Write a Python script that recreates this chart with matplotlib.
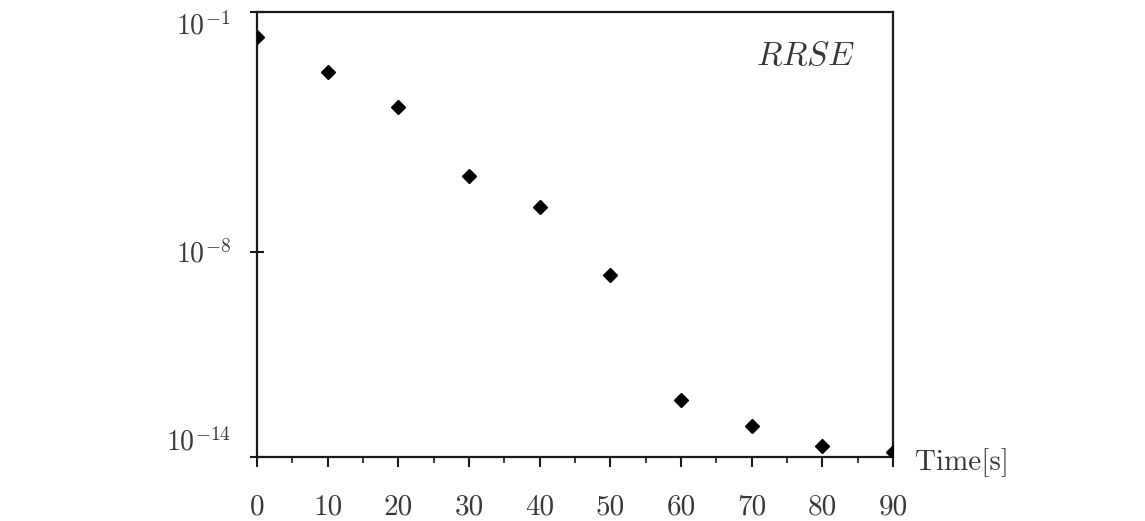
#!/usr/bin/env python3
import matplotlib
matplotlib.use("Agg")
import matplotlib.pyplot as plt
from matplotlib.ticker import FixedLocator, MultipleLocator, FixedFormatter

# RRSE over time
time_s = [0, 10, 20, 30, 40, 50, 60, 70, 80, 90]
rrse = [1.85e-2, 1.8e-3, 1.7e-4, 1.6e-6, 2.0e-7, 2.1e-9, 4.6e-13, 8.1e-14, 2.1e-14, 1.4e-14]

x_ticks = [0, 10, 20, 30, 40, 50, 60, 70, 80, 90]
y_ticks = [1e-14, 1e-8, 1e-1]
y_tick_labels = [r"$10^{-14}$", r"$10^{-8}$", r"$10^{-1}$"]

TEXT_COL = "#383838"

plt.rcParams["mathtext.fontset"] = "cm"
plt.rcParams["font.family"] = ["cmr10", "DejaVu Serif"]
plt.rcParams["axes.unicode_minus"] = False

fig = plt.figure(figsize=(11.45, 5.21), dpi=100)
ax = fig.add_axes([0.2245, 0.123, 0.5555, 0.854])

ax.plot(time_s, rrse, linestyle="none", marker="D", markersize=7,
        color="black", zorder=3)

ax.set_yscale("log")
ax.set_xlim(0, 90)
ax.set_ylim(1e-14, 1e-1)

ax.xaxis.set_major_locator(FixedLocator(x_ticks))
ax.xaxis.set_minor_locator(MultipleLocator(5))
ax.yaxis.set_major_locator(FixedLocator(y_ticks))
ax.yaxis.set_major_formatter(FixedFormatter(y_tick_labels))
ax.yaxis.set_minor_locator(FixedLocator([]))

for s in ax.spines.values():
    s.set_linewidth(1.6)
    s.set_color("#1a1a1a")

ax.tick_params(axis="x", which="major", direction="out", length=7, width=1.5,
               labelsize=21, pad=20, colors="#1a1a1a", labelcolor=TEXT_COL)
ax.tick_params(axis="x", which="minor", direction="out", length=4, width=1.2,
               colors="#1a1a1a")
ax.tick_params(axis="y", which="major", direction="inout", length=10, width=1.5,
               labelsize=20, pad=14, colors="#1a1a1a", labelcolor=TEXT_COL)

# end labels sit inside the axis span, as in the original
ticks = ax.yaxis.get_major_ticks()
ticks[0].label1.set_va("bottom")
ticks[-1].label1.set_va("top")

ax.text(0.94, 0.9, r"$RRSE$", transform=ax.transAxes, ha="right", va="center",
        fontsize=24, color=TEXT_COL)
ax.text(1.035, -0.012, "Time[s]", transform=ax.transAxes, ha="left", va="center",
        fontsize=21, color=TEXT_COL)

fig.savefig("out.png", dpi=100, facecolor="white")
